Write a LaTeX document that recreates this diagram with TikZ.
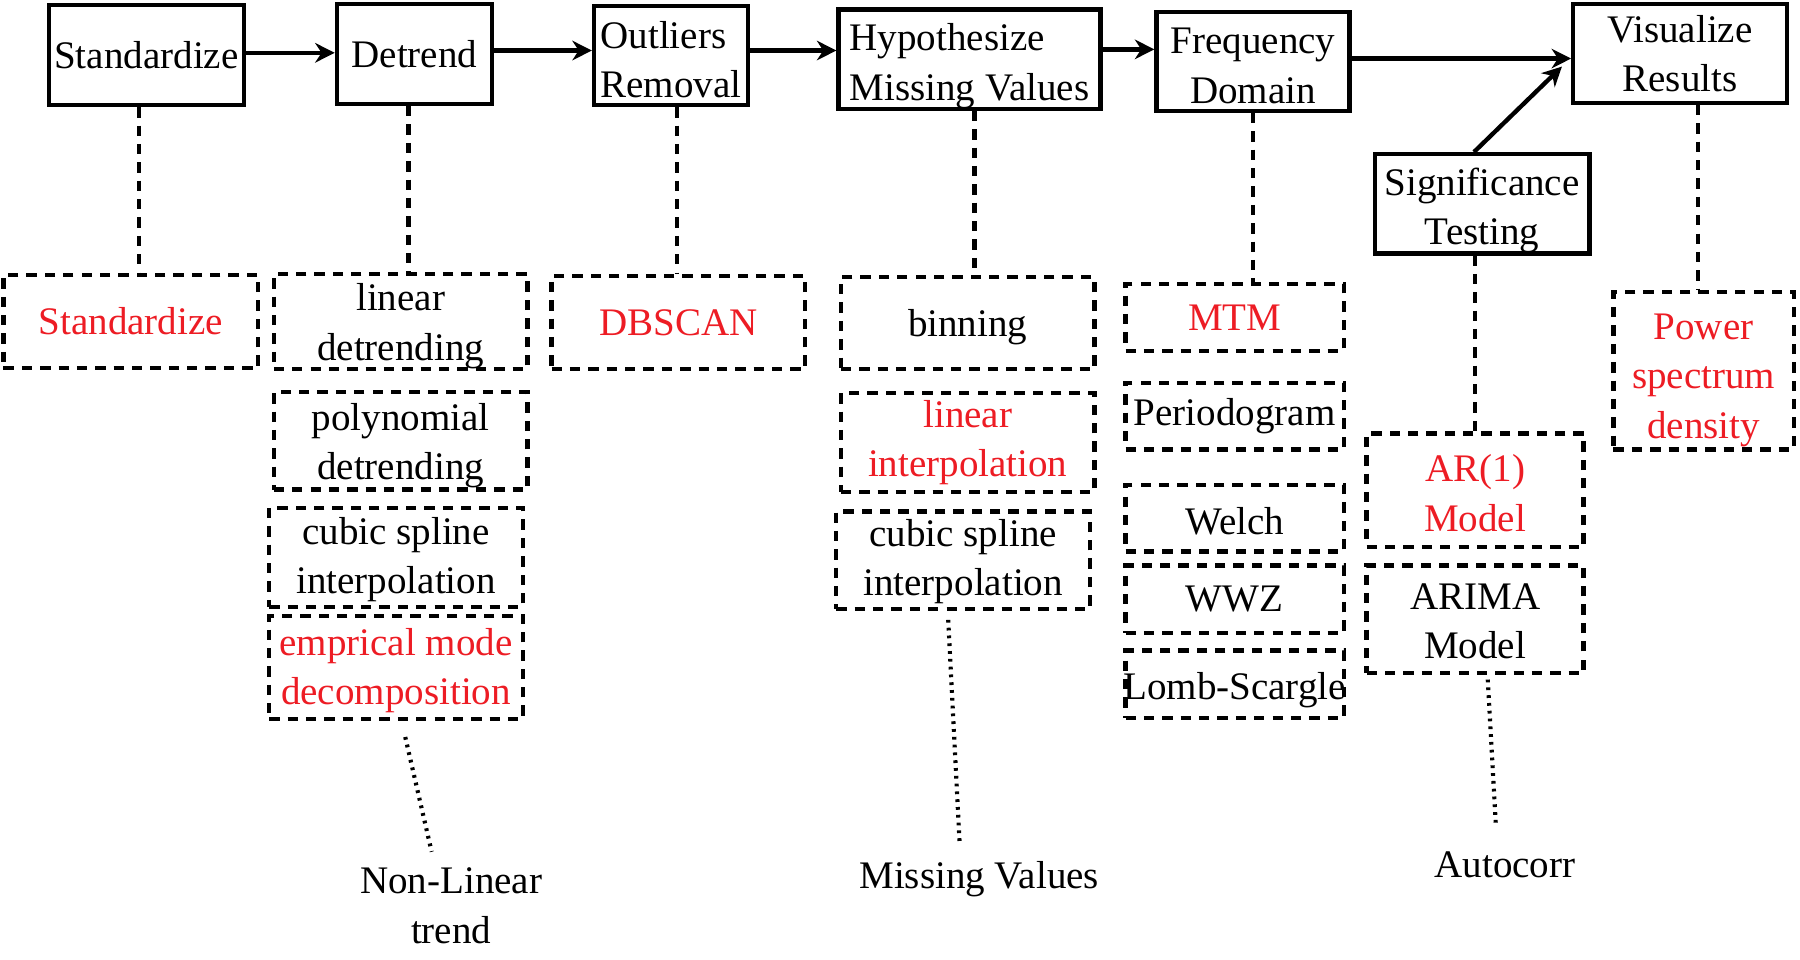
\documentclass[tikz,border=0pt]{standalone}
\usepackage{fontspec}
\setmainfont{Liberation Serif}
\usetikzlibrary{arrows.meta}
\definecolor{myred}{RGB}{237,28,36}
\newcommand{\lowstrut}[1][16pt]{\rule{0pt}{#1}}
\begin{document}
\begin{tikzpicture}[x=0.5pt,y=-0.5pt,
  every node/.style={font=\fontsize{17pt}{21.5pt}\selectfont},
  topbox/.style={draw, line width=1.9pt, inner sep=0pt, align=center},
  dbox/.style={draw, line width=1.9pt, dash pattern=on 4.5pt off 3.5pt, inner sep=0pt, align=center},
  hl/.style={text=myred},
  arr/.style={line width=1.9pt, -{Stealth[length=8.5pt,width=8.5pt]}},
  dline/.style={line width=1.9pt, dash pattern=on 4.5pt off 3.5pt},
  dotline/.style={line width=1.8pt, dash pattern=on 1.2pt off 2.2pt},
  lbl/.style={align=center, inner sep=0pt}
]
\useasboundingbox (0,0) rectangle (1568,836);

% top row
\node[topbox, minimum width=85pt, minimum height=43.5pt] (std) at (127.5,48) {Standardize};
\node[topbox, minimum width=67.5pt, minimum height=43.5pt] (det) at (361,47) {Detrend};
\node[topbox, minimum width=67pt, minimum height=43pt, align=left] (out) at (584.5,48.5) {\lowstrut[15pt]Outliers\\Removal};
\node[topbox, minimum width=114pt, minimum height=43pt, align=left] (hyp) at (844.5,51.5) {\lowstrut[18pt]Hypothesize\\Missing Values};
\node[topbox, minimum width=84pt, minimum height=43pt] (frq) at (1091.5,53.5) {\lowstrut[15pt]Frequency\\Domain};
\node[topbox, minimum width=93pt, minimum height=43pt] (vis) at (1463.5,46.5) {Visualize\\Results};
\node[topbox, minimum width=93.5pt, minimum height=43pt] (sig) at (1291,177.5) {\lowstrut[18pt]Significance\\Testing};

% dashed option boxes
\node[dbox, hl, minimum width=111pt, minimum height=40.5pt] (sstd) at (114,280) {Standardize};
\node[dbox, minimum width=110.5pt, minimum height=40.5pt] (lin) at (349,280) {\lowstrut linear\\detrending};
\node[dbox, minimum width=110.5pt, minimum height=42.5pt] (poly) at (349,384) {\lowstrut polynomial\\detrending};
\node[dbox, minimum width=110.5pt, minimum height=43pt] (cub1) at (345,485.5) {\lowstrut[14pt]cubic spline\\interpolation};
\node[dbox, hl, minimum width=110.5pt, minimum height=45pt] (emd) at (345,581.5) {\lowstrut[14.5pt]emprical mode\\decomposition};

\node[dbox, hl, minimum width=110.5pt, minimum height=40.5pt] (dbs) at (591,281) {DBSCAN};

\node[dbox, minimum width=110.5pt, minimum height=40pt] (bin) at (843,281.5) {\lowstrut[15.5pt]binning};
\node[dbox, hl, minimum width=110.5pt, minimum height=43pt] (lint) at (843,385.5) {linear\\interpolation};
\node[dbox, minimum width=110.5pt, minimum height=42.5pt] (cub2) at (839,488) {\lowstrut[13pt]cubic spline\\interpolation};

\node[dbox, hl, minimum width=95pt, minimum height=29pt] (mtm) at (1075.5,276.5) {MTM};
\node[dbox, minimum width=95pt, minimum height=29pt] (per) at (1075.5,362.5) {Periodogram};
\node[dbox, minimum width=95pt, minimum height=29pt] (wel) at (1075.5,451.5) {\lowstrut[14pt]Welch};
\node[dbox, minimum width=95pt, minimum height=29.5pt] (wwz) at (1075.5,522) {WWZ};
\node[dbox, minimum width=95pt, minimum height=29.5pt] (lomb) at (1075.5,596) {\lowstrut[17pt]\makebox[95pt]{Lomb-Scargle}};

\node[dbox, hl, minimum width=94.5pt, minimum height=49.5pt] (ar1) at (1285,427) {\lowstrut[14.5pt]AR(1)\\Model};
\node[dbox, minimum width=94.5pt, minimum height=47pt] (arima) at (1285,539.5) {\lowstrut[13pt]ARIMA\\Model};

\node[dbox, hl, minimum width=78.5pt, minimum height=68.5pt] (psd) at (1484,323) {\lowstrut[19.5pt]Power\\spectrum\\density};

% bottom labels
\node[lbl] (nl) at (393,789) {Non-Linear\\trend};
\node[lbl] (mv) at (853,766) {Missing Values};
\node[lbl] (ac) at (1311,753) {Autocorr};

% arrows along the top
\coordinate (a1) at ([yshift=1pt]std.east);
\draw[arr] (a1) -- (a1 -| det.west);
\coordinate (a2) at ([yshift=1.5pt]det.east);
\draw[arr] (a2) -- (a2 -| out.west);
\coordinate (a3) at ([yshift=2.25pt]out.east);
\draw[arr] (a3) -- (a3 -| hyp.west);
\coordinate (a4) at ([yshift=4.25pt]hyp.east);
\draw[arr] (a4) -- (a4 -| frq.west);
\coordinate (a5) at ([yshift=1.25pt]frq.east);
\draw[arr] (a5) -- (a5 -| vis.west);
\coordinate (a6s) at ([xshift=-3.5pt]sig.north);
\coordinate (a6e) at ([xshift=-4pt,yshift=-5.75pt]vis.west);
\draw[arr] (a6s) -- (a6e);

% dashed connectors
\coordinate (c1) at ([xshift=-3.25pt]std.south);
\draw[dline] (c1) -- (c1 |- sstd.north);
\coordinate (c2) at ([xshift=-2.5pt]det.south);
\draw[dline] (c2) -- (c2 |- lin.north);
\coordinate (c3) at ([xshift=2.75pt]out.south);
\draw[dline] (c3) -- (c3 |- dbs.north);
\coordinate (c4) at ([xshift=2.25pt]hyp.south);
\draw[dline] (c4) -- (c4 |- bin.north);
\coordinate (c5) at (frq.south);
\draw[dline] (c5) -- (c5 |- mtm.north);
\coordinate (c6) at ([xshift=-3pt]sig.south);
\draw[dline] (c6) -- (c6 |- ar1.north);
\coordinate (c7) at ([xshift=7.75pt]vis.south);
\draw[dline] (c7) -- (c7 |- psd.north);

% dotted connectors
\coordinate (d1a) at (353,642);
\coordinate (d1b) at (376,742);
\draw[dotline] (d1a) -- (d1b);
\coordinate (d2a) at (826,540);
\coordinate (d2b) at (836,736);
\draw[dotline] (d2a) -- (d2b);
\coordinate (d3a) at (1296,592);
\coordinate (d3b) at (1303,718);
\draw[dotline] (d3a) -- (d3b);
\end{tikzpicture}
\end{document}
